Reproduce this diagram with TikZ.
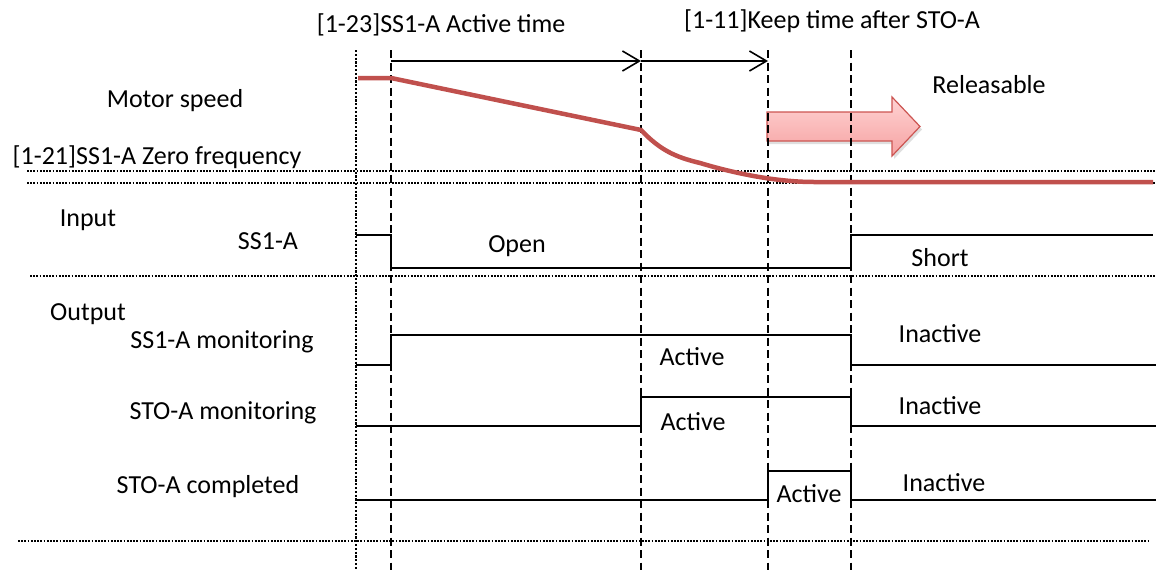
\documentclass[tikz,border=0pt]{standalone}
\usepackage{fontspec}
\setmainfont{Carlito}
\usetikzlibrary{arrows.meta,shadows}
\definecolor{speedred}{HTML}{C0504D}
\definecolor{relfilltop}{HTML}{FFD3D3}
\definecolor{relfillbot}{HTML}{F6A2A2}
\definecolor{reledge}{HTML}{CC5552}

\begin{document}
\begin{tikzpicture}[x=1pt,y=-1pt]
\tikzset{txt/.style = {inner sep=0pt,font=\fontsize{26}{31}\selectfont}}
\tikzset{tline/.style = {dash pattern=on 8pt off 4.5pt,line width=2pt}}
\tikzset{gline/.style = {dash pattern=on 1.8pt off 1.4pt,line width=1.9pt}}
\tikzset{wave/.style = {line width=2.2pt,line join=miter}}
\tikzset{span/.style = {-{Straight Barb[length=17pt,width=20pt,line width=1.6pt]},line width=1.6pt}}
\tikzset{speed/.style = {line width=4.5pt,draw=speedred}}
\useasboundingbox (0,0) rectangle (1156,570);
% releasable arrow
\draw[draw=reledge,line width=1.2pt,top color=relfilltop,bottom color=relfillbot,
  drop shadow={opacity=0.25,shadow xshift=2pt,shadow yshift=-3pt}]
  (767,112) -- (892,112) -- (892,97) -- (920,126.5) -- (892,156) -- (892,141) -- (767,141) -- cycle;
% grid lines
\draw[gline] (27,171) -- (1156,171);
\draw[gline] (27,183) -- (1156,183);
\draw[gline] (30,276) -- (1156,276);
\draw[gline] (18,541) -- (1148,541);
\draw[gline,line width=2.2pt,dash pattern=on 2.2pt off 1.6pt] (356,50) -- (356,570);
\foreach \x in {391,641,768,851}
  \draw[tline] (\x,50) -- (\x,570);
% time spans
\coordinate (a1) at (391,61);
\coordinate (a2) at (641,61);
\coordinate (a3) at (768,61);
\draw[span] (a1) -- (a2);
\draw[span] (a2) -- (a3);
% motor speed
\draw[speed] (358,78) -- (391,78) -- (641,130)
  .. controls (660,150) and (675,157) .. (700,163)
  .. controls (740,175) and (780,182) .. (814,182) -- (1153,182);
% signals
\draw[wave] (356,235) -- (391,235) -- (391,268) -- (851,268) -- (851,235) -- (1153,235);
\draw[wave] (356,365) -- (391,365) -- (391,335) -- (851,335) -- (851,365) -- (1156,365);
\draw[wave] (356,426) -- (641,426) -- (641,397) -- (851,397) -- (851,426) -- (1156,426);
\draw[wave] (356,500) -- (768,500) -- (768,471) -- (851,471) -- (851,500) -- (1156,500);
% labels
\node[txt] (ss1time) at (441,25) {[1-23]SS1-A Active time};
\node[txt] (keeptime) at (832,21) {[1-11]Keep time after STO-A};
\node[txt] (motor) at (175,101) {Motor speed};
\node[txt] (zero) at (157,157) {[1-21]SS1-A Zero frequency};
\node[txt] (release) at (989,85) {Releasable};
\node[txt] (input) at (88,220) {Input};
\node[txt] (ss1) at (268,241) {SS1-A};
\node[txt] (open) at (517,246) {Open};
\node[txt] (short) at (940,258) {Short};
\node[txt] (output) at (88,314) {Output};
\node[txt] (ss1mon) at (222,342) {SS1-A monitoring};
\node[txt] (stomon) at (223,413) {STO-A monitoring};
\node[txt] (stodone) at (208,487) {STO-A completed};
\node[txt] (act1) at (692,357) {Active};
\node[txt] (act2) at (693,422) {Active};
\node[txt] (act3) at (809,494) {Active};
\node[txt] (inact1) at (940,334) {Inactive};
\node[txt] (inact2) at (940,406) {Inactive};
\node[txt] (inact3) at (944,483) {Inactive};
\end{tikzpicture}
\end{document}
